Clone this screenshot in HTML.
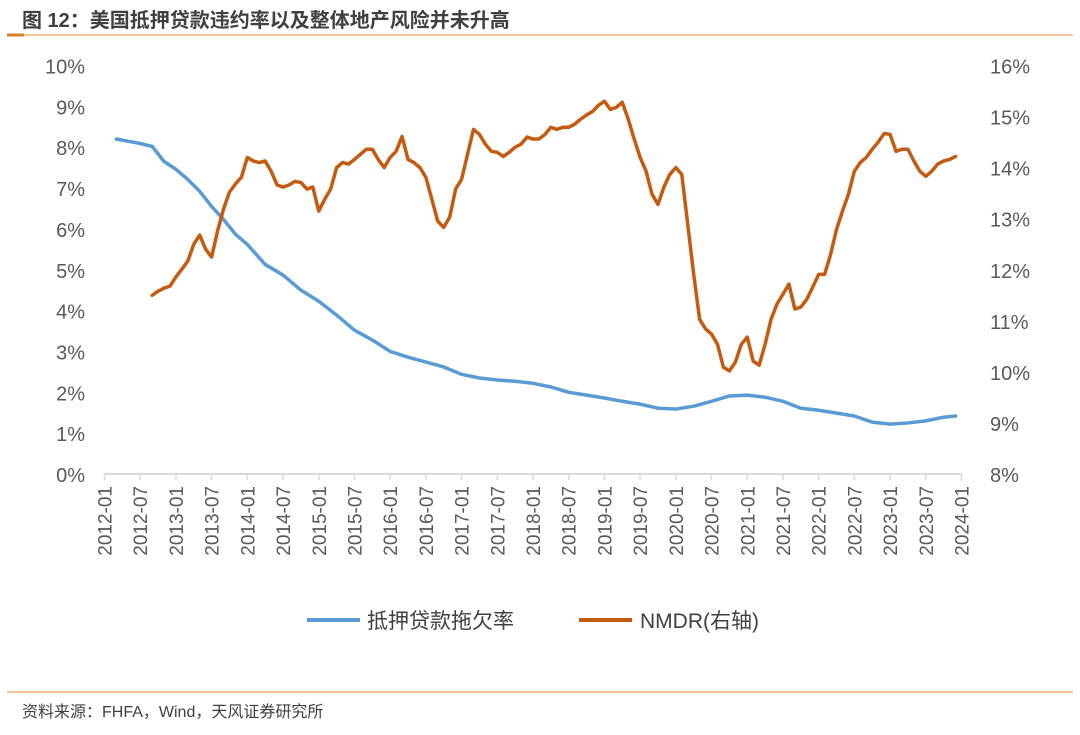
<!DOCTYPE html>
<html><head><meta charset="utf-8"><style>
body{margin:0;background:#fff;width:1080px;height:730px;overflow:hidden;font-family:"Liberation Sans","Noto Sans CJK SC",sans-serif}
</style></head><body>
<svg id="c" width="1080" height="730" xmlns="http://www.w3.org/2000/svg">
<text x="22" y="27" font-size="20" font-weight="bold" fill="#404040" font-family="Liberation Sans,Noto Sans CJK SC,sans-serif">图 12：美国抵押贷款违约率以及整体地产风险并未升高</text>
<line x1="7" y1="35" x2="1073" y2="35" stroke="#f0b27a" stroke-width="1.5"/>
<line x1="7" y1="35" x2="24" y2="35" stroke="#d9822b" stroke-width="3"/>
<g id="axes"></g>
<g id="series"></g>
<g>
<line x1="307" y1="620" x2="360" y2="620" stroke="#5b9bd5" stroke-width="4"/>
<text x="367" y="628" font-size="21" fill="#404040">抵押贷款拖欠率</text>
<line x1="579" y1="620" x2="632" y2="620" stroke="#c55a11" stroke-width="4"/>
<text x="640" y="628" font-size="21" fill="#404040">NMDR(右轴)</text>
</g>
<line x1="7" y1="692" x2="1073" y2="692" stroke="#f0b27a" stroke-width="1.5"/>
<text x="22" y="717" font-size="16" fill="#404040">资料来源：FHFA，Wind，天风证券研究所</text>
</svg>
<script>
const blueMonths=[2,6,8,10,12,14,16,18,20,22,24,27,30,33,36,39,42,45,48,51,54,57,60,63,66,69,72,75,78,81,84,87,90,93,96,99,102,105,108,111,114,117,120,123,126,129,132,135,138,141,143];
const blueValues=[8.2,8.09,8.02,7.65,7.46,7.21,6.92,6.55,6.23,5.87,5.62,5.13,4.87,4.5,4.23,3.89,3.52,3.28,3.0,2.86,2.74,2.62,2.44,2.35,2.3,2.27,2.22,2.13,2.0,1.93,1.86,1.78,1.71,1.61,1.59,1.66,1.78,1.91,1.93,1.88,1.78,1.61,1.56,1.49,1.42,1.27,1.22,1.25,1.3,1.39,1.42];
const nmdrStart=8;
const nmdrValues=[11.5,11.58,11.64,11.68,11.86,12.01,12.17,12.5,12.68,12.4,12.25,12.76,13.19,13.52,13.68,13.81,14.2,14.13,14.1,14.13,13.93,13.66,13.62,13.66,13.73,13.71,13.58,13.62,13.15,13.38,13.58,14.0,14.1,14.07,14.16,14.26,14.36,14.36,14.16,14.0,14.2,14.32,14.61,14.16,14.1,14.0,13.81,13.38,12.95,12.83,13.03,13.58,13.77,14.26,14.75,14.65,14.46,14.32,14.3,14.22,14.3,14.4,14.46,14.6,14.56,14.56,14.65,14.79,14.75,14.79,14.79,14.85,14.95,15.03,15.1,15.22,15.3,15.14,15.18,15.28,14.95,14.56,14.2,13.93,13.48,13.28,13.62,13.87,14.0,13.87,12.89,11.91,11.03,10.84,10.74,10.54,10.09,10.02,10.19,10.54,10.68,10.21,10.13,10.54,11.03,11.33,11.52,11.72,11.23,11.27,11.42,11.66,11.91,11.91,12.3,12.79,13.15,13.48,13.93,14.1,14.2,14.36,14.5,14.67,14.65,14.32,14.36,14.36,14.13,13.93,13.83,13.93,14.07,14.13,14.16,14.22];
const leftTicks=[0,1,2,3,4,5,6,7,8,9,10];
const rightTicks=[8,9,10,11,12,13,14,15,16];
const xTickLabels=[];for(let y=2012;y<=2024;y++){xTickLabels.push(y+'-01');if(y<2024)xTickLabels.push(y+'-07');}
const NS='http://www.w3.org/2000/svg';
const X=m=>104.5+m*(857/144);
const YL=v=>474-v*40.85;
const YR=v=>474-(v-8)*51.06;
const ax=document.getElementById('axes'),se=document.getElementById('series');
function mk(t,a,p){const e=document.createElementNS(NS,t);for(const k in a)e.setAttribute(k,a[k]);p.appendChild(e);return e;}
const base=mk('line',{x1:X(0),y1:474,x2:X(144),y2:474,stroke:'#d9d9d9','stroke-width':2},ax);


leftTicks.forEach(v=>{const t=mk('text',{x:85,y:YL(v)+8,'text-anchor':'end','font-size':20,fill:'#595959'},ax);t.textContent=v+'%';

});
rightTicks.forEach(v=>{const t=mk('text',{x:990,y:YR(v)+8,'font-size':20,fill:'#595959'},ax);t.textContent=v+'%';

});
xTickLabels.forEach((s,i)=>{const x=X(i*6);
const tk=mk('line',{x1:x,y1:474,x2:x,y2:480,stroke:'#d9d9d9','stroke-width':1.5},ax);


const t=mk('text',{x:0,y:0,'font-size':19,fill:'#595959','text-anchor':'end',transform:`translate(${x+7},486) rotate(-90)`},ax);t.textContent=s;

});
const bp=mk('polyline',{points:blueMonths.map((m,i)=>X(m)+','+YL(blueValues[i])).join(' '),fill:'none',stroke:'#5b9bd5','stroke-width':3.5,'stroke-linejoin':'round','stroke-linecap':'round'},se);


const op=mk('polyline',{points:nmdrValues.map((v,i)=>X(nmdrStart+i)+','+YR(v)).join(' '),fill:'none',stroke:'#c55a11','stroke-width':3.5,'stroke-linejoin':'round','stroke-linecap':'round'},se);


</script>
</body></html>
